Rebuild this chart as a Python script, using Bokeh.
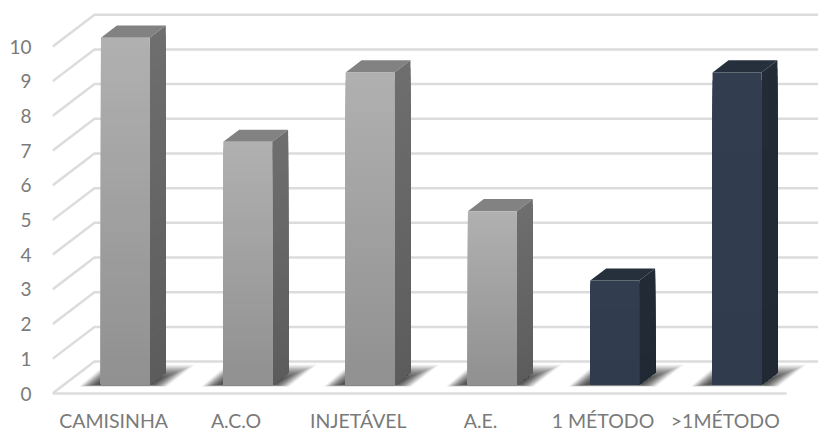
from bokeh.embed import file_html
from bokeh.models import FixedTicker, Range1d
from bokeh.plotting import figure
from bokeh.resources import INLINE

categories = ["CAMISINHA", "A.C.O", "INJETÁVEL", "A.E.", "1 MÉTODO", ">1MÉTODO"]
values = [10, 7, 9, 5, 3, 9]
y_ticks = [0, 1, 2, 3, 4, 5, 6, 7, 8, 9, 10]

# (top, bottom) gradient of the front face, side face and cap for each palette
GREY = dict(front=((176, 176, 176), (144, 144, 144)),
            side=((110, 110, 110), (92, 92, 92)), cap="#828282")
NAVY = dict(front=((50, 62, 80), (48, 60, 78)),
            side=((34, 43, 54), (32, 41, 52)), cap="#26303d")
palettes = [GREY, GREY, GREY, GREY, NAVY, NAVY]

# Oblique projection: one full depth unit moves a point right and upward
DEPTH_X = 0.343
DEPTH_Y = 0.92
BAR_NEAR = 0.28
BAR_FAR = 0.66
HALF = 0.2
GRID = "#dcdcdc"
UX = 1 / 122.33  # x units per screen pixel
UY = 1 / 34.7    # y units per screen pixel

# The frame runs to the page bottom; the category axis sits on y = 0 inside it
p = figure(width=818, height=431, output_backend="svg", toolbar_location=None,
           x_range=Range1d(-0.5, 5.762), y_range=Range1d(-38 * UY, 11.33),
           min_border_left=52, min_border_right=0, min_border_top=0, min_border_bottom=0,
           outline_line_color=None)
p.grid.visible = False
p.background_fill_color = "white"

p.yaxis.ticker = FixedTicker(ticks=y_ticks)
p.yaxis.axis_line_color = None
p.yaxis.major_tick_line_color = None
p.yaxis.minor_tick_line_color = None
p.yaxis.major_tick_out = 0
p.yaxis.major_tick_in = 0
p.yaxis.major_label_standoff = 21
p.yaxis.major_label_text_font = "Lato"
p.yaxis.major_label_text_font_size = "19px"
p.yaxis.major_label_text_color = "#7a7a7a"

p.xaxis.fixed_location = 0
p.xaxis.ticker = FixedTicker(ticks=list(range(len(categories))))
p.xaxis.major_label_overrides = {i: c for i, c in enumerate(categories)}
p.xaxis.axis_line_color = None
p.xaxis.major_tick_line_color = None
p.xaxis.minor_tick_line_color = None
p.xaxis.major_tick_out = 0
p.xaxis.major_tick_in = 0
p.xaxis.major_label_standoff = 15
p.xaxis.major_label_text_font = "Lato"
p.xaxis.major_label_text_font_size = "19.5px"
p.xaxis.major_label_text_color = "#7a7a7a"
p.xaxis.major_label_orientation = "horizontal"


def project(x, y, depth):
    return x + DEPTH_X * depth, y + DEPTH_Y * depth


# Back wall and side wall gridlines
x_left = -0.5
x_right = 5.5
for v in y_ticks:
    x0, y0 = project(x_left, v, 0)
    x1, y1 = project(x_left, v, 1)
    p.line([x0, x1, 5.762], [y0, y1, y1], line_color=GRID, line_width=2.5)
p.line([x_left, x_right], [0, 0], line_color=GRID, line_width=2.5)


def lerp(a, b, t):
    return tuple(round(a[k] + (b[k] - a[k]) * t) for k in range(3))


def hex_of(c):
    return "#%02x%02x%02x" % c


# Soft floor shadow: translucent quadrilaterals shrinking toward the bar foot.
# Corners are pixel offsets (right, up) from the bar's front-left foot.
SHADOW_OUTER = [(-22, -2), (66, -2), (94, 20), (4, 20)]
SHADOW_INNER = [(-4, 0), (50, 0), (60, 6), (6, 6)]
LAYERS = 30
for i in range(len(values)):
    foot_x, foot_y = project(i - HALF, 0, BAR_NEAR)
    for k in range(LAYERS):
        t = (k / (LAYERS - 1)) ** 0.8
        xs = [foot_x + UX * (o[0] + (n[0] - o[0]) * t) for o, n in zip(SHADOW_OUTER, SHADOW_INNER)]
        ys = [foot_y + UY * (o[1] + (n[1] - o[1]) * t) for o, n in zip(SHADOW_OUTER, SHADOW_INNER)]
        p.patch(xs, ys, fill_color="#333333", fill_alpha=0.055, line_color=None)

# Bars: cap, side face, then front face shaded with bottom-overlapping strips
STEPS = 40
for i, (v, pal) in enumerate(zip(values, palettes)):
    xl = i - HALF
    xr = i + HALF
    fl, fb = project(xl, 0, BAR_NEAR)
    fr, ft = project(xr, v, BAR_NEAR)
    bl, _ = project(xl, v, BAR_FAR)
    br, bt = project(xr, v, BAR_FAR)
    _, bb = project(xr, 0, BAR_FAR)

    p.patch([fl, fr, br, bl], [ft, ft, bt, bt], fill_color=pal["cap"], line_color=None)
    for s in range(STEPS):
        t = s / (STEPS - 1)
        col = hex_of(lerp(pal["side"][0], pal["side"][1], t))
        top_f = ft + (fb - ft) * t
        top_b = bt + (bb - bt) * t
        p.patch([fr, br, br, fr], [top_f, top_b, bb, fb], fill_color=col, line_color=None)
    for s in range(STEPS):
        t = s / (STEPS - 1)
        col = hex_of(lerp(pal["front"][0], pal["front"][1], t))
        p.quad(left=fl, right=fr, top=ft + (fb - ft) * t, bottom=fb, fill_color=col, line_color=None)

open("out.html", "w").write(file_html(p, INLINE))
